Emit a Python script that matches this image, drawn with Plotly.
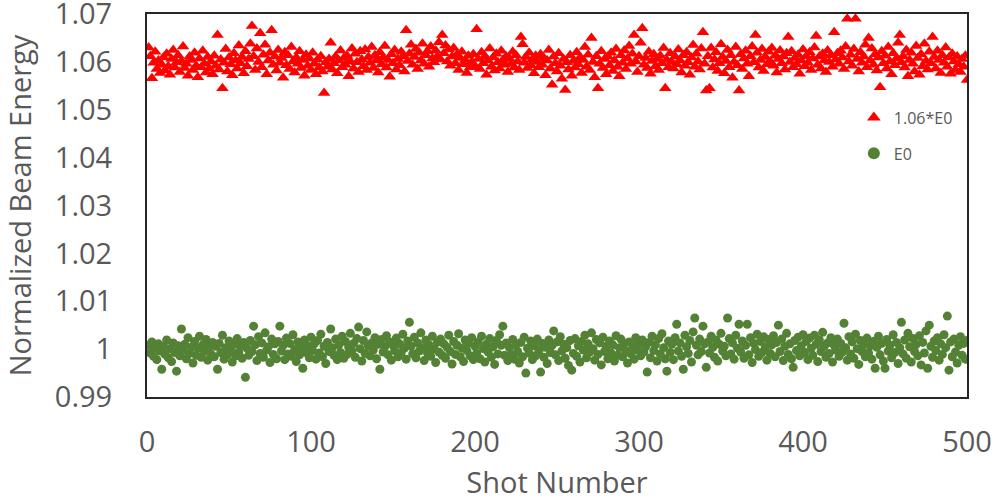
import plotly.graph_objects as go

shots = list(range(1, 501))

energy_106 = [
    1.0630, 1.0612, 1.0566, 1.0598, 1.0621, 1.0585, 1.0603, 1.0577, 1.0594, 1.0609, 1.0582, 1.0617, 1.0591, 1.0573, 1.0606, 1.0625, 1.0588, 1.0599, 1.0614, 1.0579,
    1.0602, 1.0632, 1.0587, 1.0596, 1.0571, 1.0611, 1.0604, 1.0583, 1.0619, 1.0592, 1.0568, 1.0607, 1.0589, 1.0623, 1.0596, 1.0578, 1.0610, 1.0586, 1.0601, 1.0574,
    1.0613, 1.0592, 1.0656, 1.0584, 1.0605, 1.0545, 1.0598, 1.0627, 1.0580, 1.0609, 1.0595, 1.0572, 1.0618, 1.0603, 1.0586, 1.0634, 1.0597, 1.0610, 1.0576, 1.0622,
    1.0591, 1.0606, 1.0638, 1.0675, 1.0612, 1.0583, 1.0628, 1.0600, 1.0660, 1.0589, 1.0615, 1.0636, 1.0574, 1.0603, 1.0619, 1.0666, 1.0594, 1.0611, 1.0582, 1.0625,
    1.0598, 1.0608, 1.0567, 1.0620, 1.0593, 1.0614, 1.0585, 1.0631, 1.0601, 1.0578, 1.0609, 1.0596, 1.0622, 1.0587, 1.0604, 1.0571, 1.0615, 1.0592, 1.0607, 1.0583,
    1.0619, 1.0596, 1.0574, 1.0605, 1.0588, 1.0612, 1.0580, 1.0535, 1.0599, 1.0590, 1.0606, 1.0640, 1.0584, 1.0597, 1.0611, 1.0576, 1.0603, 1.0624, 1.0589, 1.0608,
    1.0594, 1.0613, 1.0570, 1.0601, 1.0628, 1.0586, 1.0617, 1.0599, 1.0579, 1.0622, 1.0605, 1.0591, 1.0626, 1.0583, 1.0610, 1.0598, 1.0631, 1.0587, 1.0614, 1.0603,
    1.0578, 1.0620, 1.0595, 1.0609, 1.0633, 1.0588, 1.0604, 1.0569, 1.0616, 1.0597, 1.0625, 1.0584, 1.0606, 1.0593, 1.0621, 1.0611, 1.0580, 1.0666, 1.0602, 1.0617,
    1.0636, 1.0594, 1.0610, 1.0627, 1.0585, 1.0619, 1.0603, 1.0638, 1.0596, 1.0614, 1.0622, 1.0590, 1.0632, 1.0607, 1.0599, 1.0624, 1.0612, 1.0641, 1.0605, 1.0656,
    1.0618, 1.0634, 1.0601, 1.0626, 1.0592, 1.0611, 1.0629, 1.0597, 1.0615, 1.0583, 1.0608, 1.0621, 1.0595, 1.0604, 1.0577, 1.0613, 1.0589, 1.0600, 1.0616, 1.0591,
    1.0668, 1.0606, 1.0585, 1.0620, 1.0597, 1.0612, 1.0573, 1.0603, 1.0628, 1.0590, 1.0609, 1.0582, 1.0617, 1.0599, 1.0586, 1.0623, 1.0604, 1.0594, 1.0611, 1.0579,
    1.0607, 1.0596, 1.0621, 1.0588, 1.0614, 1.0601, 1.0583, 1.0652, 1.0637, 1.0598, 1.0610, 1.0587, 1.0619, 1.0593, 1.0605, 1.0576, 1.0613, 1.0600, 1.0589, 1.0616,
    1.0594, 1.0608, 1.0572, 1.0603, 1.0625, 1.0586, 1.0552, 1.0611, 1.0597, 1.0580, 1.0618, 1.0592, 1.0565, 1.0606, 1.0541, 1.0599, 1.0584, 1.0614, 1.0571, 1.0602,
    1.0588, 1.0620, 1.0595, 1.0609, 1.0577, 1.0604, 1.0631, 1.0590, 1.0615, 1.0583, 1.0650, 1.0600, 1.0568, 1.0612, 1.0545, 1.0596, 1.0622, 1.0587, 1.0606, 1.0574,
    1.0611, 1.0593, 1.0619, 1.0581, 1.0603, 1.0627, 1.0590, 1.0570, 1.0614, 1.0598, 1.0624, 1.0585, 1.0607, 1.0633, 1.0596, 1.0617, 1.0656, 1.0601, 1.0579, 1.0612,
    1.0640, 1.0670, 1.0594, 1.0608, 1.0587, 1.0621, 1.0575, 1.0602, 1.0616, 1.0591, 1.0606, 1.0583, 1.0613, 1.0597, 1.0629, 1.0545, 1.0604, 1.0589, 1.0618, 1.0600,
    1.0586, 1.0611, 1.0595, 1.0626, 1.0603, 1.0578, 1.0614, 1.0592, 1.0620, 1.0599, 1.0573, 1.0609, 1.0635, 1.0590, 1.0617, 1.0601, 1.0584, 1.0628, 1.0662, 1.0596,
    1.0540, 1.0612, 1.0545, 1.0629, 1.0588, 1.0605, 1.0620, 1.0581, 1.0597, 1.0637, 1.0610, 1.0576, 1.0602, 1.0625, 1.0589, 1.0614, 1.0567, 1.0600, 1.0631, 1.0593,
    1.0540, 1.0616, 1.0585, 1.0607, 1.0623, 1.0596, 1.0570, 1.0612, 1.0632, 1.0599, 1.0656, 1.0619, 1.0588, 1.0604, 1.0627, 1.0581, 1.0610, 1.0595, 1.0621, 1.0601,
    1.0629, 1.0592, 1.0613, 1.0578, 1.0606, 1.0624, 1.0597, 1.0611, 1.0584, 1.0618, 1.0652, 1.0600, 1.0622, 1.0589, 1.0608, 1.0595, 1.0615, 1.0575, 1.0603, 1.0626,
    1.0591, 1.0612, 1.0598, 1.0620, 1.0583, 1.0607, 1.0630, 1.0654, 1.0594, 1.0611, 1.0586, 1.0617, 1.0603, 1.0579, 1.0624, 1.0600, 1.0614, 1.0590, 1.0662, 1.0605,
    1.0618, 1.0596, 1.0623, 1.0609, 1.0585, 1.0632, 1.0690, 1.0601, 1.0615, 1.0592, 1.0627, 1.0690, 1.0606, 1.0580, 1.0620, 1.0598, 1.0611, 1.0636, 1.0589, 1.0650,
    1.0603, 1.0628, 1.0594, 1.0616, 1.0582, 1.0609, 1.0547, 1.0622, 1.0597, 1.0613, 1.0586, 1.0631, 1.0601, 1.0574, 1.0618, 1.0593, 1.0607, 1.0640, 1.0656, 1.0599,
    1.0612, 1.0588, 1.0625, 1.0570, 1.0604, 1.0619, 1.0596, 1.0580, 1.0633, 1.0608, 1.0573, 1.0616, 1.0591, 1.0638, 1.0602, 1.0584, 1.0621, 1.0597, 1.0652, 1.0610,
    1.0586, 1.0623, 1.0604, 1.0577, 1.0614, 1.0598, 1.0630, 1.0590, 1.0609, 1.0575, 1.0617, 1.0601, 1.0583, 1.0611, 1.0595, 1.0579, 1.0606, 1.0590, 1.0613, 1.0562,
]

energy_e0 = [
    1.0008, 0.9992, 1.0015, 0.9985, 1.0003, 0.9978, 1.0011, 0.9996, 0.9958, 1.0006, 0.9989, 1.0019, 0.9982, 1.0001, 0.9974, 1.0013, 0.9993, 0.9954, 1.0007, 0.9986,
    1.0042, 0.9997, 1.0010, 0.9980, 1.0024, 0.9991, 1.0004, 0.9971, 1.0016, 0.9987, 1.0002, 1.0027, 0.9983, 1.0009, 0.9995, 1.0020, 0.9977, 1.0005, 0.9990, 1.0014,
    0.9984, 1.0006, 0.9958, 1.0012, 0.9993, 1.0029, 0.9979, 1.0003, 0.9988, 1.0017, 0.9998, 0.9973, 1.0010, 0.9986, 1.0022, 0.9994, 1.0007, 0.9981, 1.0014, 0.9941,
    1.0002, 0.9987, 1.0018, 0.9995, 1.0048, 1.0009, 0.9976, 1.0026, 0.9991, 1.0013, 0.9983, 1.0034, 0.9998, 1.0005, 0.9972, 1.0021, 0.9989, 1.0011, 0.9980, 1.0016,
    1.0048, 0.9996, 1.0008, 0.9978, 1.0023, 0.9990, 1.0012, 0.9985, 1.0030, 0.9999, 0.9974, 1.0015, 0.9988, 1.0004, 0.9960, 1.0019, 0.9993, 1.0007, 0.9982, 1.0025,
    0.9997, 1.0011, 0.9979, 1.0018, 0.9992, 1.0031, 0.9984, 1.0006, 0.9970, 1.0014, 0.9995, 1.0042, 1.0003, 0.9987, 1.0021, 0.9978, 1.0009, 0.9993, 1.0027, 0.9981,
    1.0016, 0.9989, 1.0004, 1.0033, 0.9996, 1.0012, 0.9983, 1.0022, 1.0046, 1.0001, 0.9975, 1.0018, 0.9991, 1.0036, 1.0007, 0.9986, 1.0013, 0.9998, 1.0024, 0.9980,
    1.0010, 0.9958, 1.0020, 0.9994, 1.0005, 1.0028, 0.9988, 1.0015, 0.9977, 1.0008, 0.9997, 1.0023, 0.9984, 1.0011, 0.9993, 1.0031, 1.0002, 0.9979, 1.0017, 1.0056,
    1.0006, 0.9990, 1.0025, 0.9982, 1.0013, 0.9996, 1.0034, 1.0003, 0.9976, 1.0019, 0.9992, 1.0009, 0.9985, 1.0027, 1.0000, 0.9972, 1.0014, 0.9994, 1.0021, 0.9987,
    1.0011, 0.9981, 1.0004, 1.0029, 0.9995, 0.9969, 1.0016, 0.9989, 1.0008, 1.0032, 0.9984, 1.0002, 0.9974, 1.0019, 0.9997, 1.0012, 0.9986, 1.0024, 0.9978, 1.0006,
    0.9991, 1.0015, 0.9980, 1.0027, 1.0001, 0.9973, 1.0010, 0.9994, 1.0022, 0.9983, 1.0005, 0.9968, 1.0018, 0.9990, 1.0030, 1.0008, 1.0048, 0.9987, 1.0013, 0.9976,
    1.0003, 0.9989, 1.0020, 0.9979, 1.0009, 0.9995, 0.9971, 1.0014, 0.9984, 1.0025, 0.9950, 1.0002, 0.9992, 1.0017, 0.9978, 1.0007, 0.9986, 1.0021, 0.9997, 0.9952,
    1.0012, 0.9983, 1.0004, 0.9970, 1.0019, 0.9993, 1.0008, 1.0038, 0.9988, 1.0015, 0.9976, 1.0026, 0.9996, 1.0010, 0.9981, 1.0003, 0.9966, 1.0018, 0.9956, 0.9991,
    1.0022, 0.9985, 1.0007, 0.9973, 1.0016, 0.9998, 1.0029, 0.9982, 1.0011, 0.9994, 1.0034, 1.0001, 0.9977, 1.0020, 0.9989, 1.0013, 0.9967, 1.0025, 0.9995, 1.0006,
    0.9980, 1.0017, 0.9992, 1.0009, 0.9975, 1.0028, 0.9987, 1.0003, 1.0021, 0.9984, 1.0012, 0.9996, 0.9971, 1.0015, 0.9990, 1.0007, 0.9979, 1.0024, 0.9998, 1.0011,
    0.9986, 1.0019, 0.9994, 1.0005, 0.9952, 1.0014, 0.9982, 1.0027, 0.9997, 1.0009, 0.9975, 1.0022, 0.9990, 1.0032, 1.0003, 0.9980, 0.9954, 1.0017, 0.9993, 1.0010,
    0.9978, 1.0024, 1.0052, 0.9996, 1.0013, 0.9985, 0.9958, 1.0029, 1.0005, 0.9991, 1.0018, 0.9973, 1.0036, 1.0065, 1.0008, 0.9988, 1.0021, 0.9995, 1.0048, 1.0011,
    0.9962, 1.0015, 0.9992, 1.0027, 1.0004, 0.9983, 1.0019, 0.9975, 1.0010, 1.0033, 0.9996, 1.0006, 0.9986, 1.0065, 1.0022, 0.9990, 1.0013, 0.9979, 1.0029, 1.0002,
    1.0052, 0.9994, 1.0017, 0.9981, 1.0008, 1.0052, 0.9988, 1.0024, 0.9972, 1.0012, 0.9999, 1.0031, 0.9985, 1.0016, 0.9993, 1.0026, 1.0004, 0.9977, 1.0020, 0.9991,
    1.0009, 1.0028, 0.9984, 1.0014, 1.0050, 0.9995, 1.0021, 0.9976, 1.0006, 1.0033, 0.9989, 1.0011, 0.9980, 0.9962, 1.0018, 0.9997, 1.0025, 0.9986, 1.0007, 1.0030,
    0.9993, 1.0016, 0.9978, 1.0023, 1.0002, 0.9987, 1.0029, 1.0010, 0.9974, 1.0019, 0.9995, 1.0035, 1.0006, 0.9983, 1.0013, 0.9991, 1.0024, 0.9973, 1.0008, 0.9998,
    1.0021, 0.9985, 1.0012, 0.9994, 1.0054, 1.0003, 0.9977, 1.0026, 0.9990, 1.0015, 0.9981, 1.0031, 1.0001, 0.9968, 1.0018, 0.9995, 1.0009, 0.9984, 1.0023, 0.9992,
    1.0007, 0.9979, 1.0016, 0.9960, 1.0004, 1.0027, 0.9988, 1.0012, 0.9975, 0.9960, 1.0020, 0.9996, 1.0008, 0.9982, 1.0030, 0.9993, 1.0014, 0.9970, 1.0003, 1.0056,
    0.9990, 1.0019, 0.9981, 1.0033, 1.0005, 0.9973, 1.0022, 0.9995, 1.0010, 0.9986, 1.0028, 0.9967, 1.0014, 0.9992, 1.0038, 0.9960, 1.0050, 1.0006, 0.9983, 1.0017,
    0.9997, 1.0024, 0.9977, 1.0011, 0.9989, 1.0030, 1.0003, 1.0069, 0.9956, 1.0015, 0.9984, 1.0021, 0.9994, 0.9971, 1.0008, 1.0026, 0.9987, 1.0012, 0.9979, 1.0018,
]

x_ticks = [0, 100, 200, 300, 400, 500]
y_ticks = [0.99, 1.0, 1.01, 1.02, 1.03, 1.04, 1.05, 1.06, 1.07]
y_tick_labels = ["0.99", "1", "1.01", "1.02", "1.03", "1.04", "1.05", "1.06", "1.07"]

gray = "#595959"
font_family = "Open Sans, Lato, sans-serif"

fig = go.Figure()
fig.add_trace(go.Scatter(
    x=shots, y=energy_106, mode="markers", name="1.06*E0", legendgroup="a",
    marker=dict(symbol="triangle-up", size=11, color="#FF0000", line=dict(width=0)),
))
fig.add_trace(go.Scatter(
    x=shots, y=energy_e0, mode="markers", name="E0", legendgroup="b",
    marker=dict(symbol="circle", size=9, color="#548235", line=dict(width=0)),
))

fig.update_layout(
    width=995, height=501,
    margin=dict(l=147, r=28, t=14, b=104),
    paper_bgcolor="white", plot_bgcolor="white",
    font=dict(family=font_family, color=gray),
    showlegend=True,
    legend=dict(
        x=0.862, y=0.774, xanchor="left", yanchor="top",
        bgcolor="rgba(0,0,0,0)", font=dict(size=16, color=gray),
        tracegroupgap=12, itemsizing="constant",
    ),
    xaxis=dict(
        range=[0, 500], tickvals=x_ticks, showgrid=False, zeroline=False,
        showline=True, linecolor="#262626", linewidth=2, mirror=True,
        automargin=False, ticklabeloverflow="allow",
        ticks="", tickfont=dict(size=29, color=gray), ticklabelstandoff=18,
        title=dict(text="Shot Number", font=dict(size=29, color=gray), standoff=17),
    ),
    yaxis=dict(
        range=[0.99, 1.07], tickvals=y_ticks, ticktext=y_tick_labels,
        showgrid=False, zeroline=False,
        showline=True, linecolor="#262626", linewidth=2, mirror=True,
        automargin=False, ticklabeloverflow="allow",
        ticks="", tickfont=dict(size=29, color=gray), ticklabelstandoff=27,
        title=dict(text="Normalized Beam Energy", font=dict(size=29, color=gray), standoff=24),
    ),
)

fig.write_html(
    "out.html",
    config={"displayModeBar": False},
    post_script="document.body.style.margin='0px';document.body.style.overflow='hidden';",
)
